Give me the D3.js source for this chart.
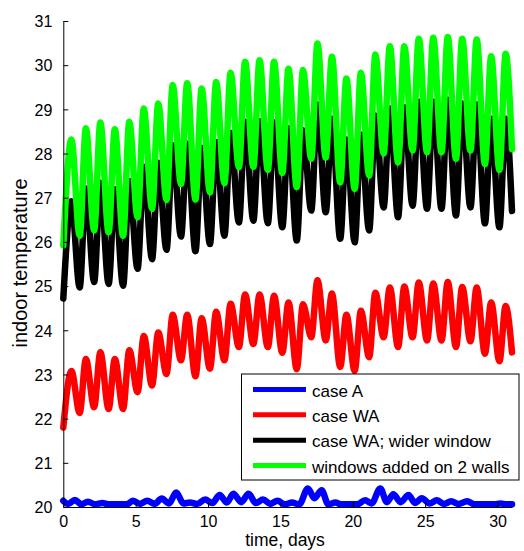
<!DOCTYPE html>
<html>
<head>
<meta charset="utf-8">
<script src="https://cdn.jsdelivr.net/npm/d3@7"></script>
<style>
  html, body { margin: 0; padding: 0; background: #fff; }
  svg { display: block; font-family: Arial, "Liberation Sans", Helvetica, sans-serif; }
</style>
</head>
<body>
<svg id="chart" width="524" height="551"></svg>
<script>
// Daily indoor temperature swings over one month, four building variants.
// Each periodic series is given by its daily low (early morning) and daily high (afternoon).
const days = d3.range(31);                 // day index 0..30
const troughOffset = 0.13;                 // time of daily minimum within a day
const peakOffset = 0.56;                   // time of daily maximum within a day

const greenTroughs = [25.92, 26.14, 26.26, 26.22, 26.14, 26.56, 26.75, 26.95, 27.31, 26.96, 27.12,
                      27.33, 27.69, 27.70, 27.63, 27.56, 27.24, 27.88, 27.91, 27.35, 27.20, 27.50,
                      28.00, 27.80, 28.07, 28.03, 28.03, 27.88, 28.07, 27.76, 27.63];
const greenPeaks   = [28.32, 28.57, 28.70, 28.55, 28.72, 29.02, 29.13, 29.55, 29.59, 29.47, 29.62,
                      29.83, 30.08, 30.11, 30.08, 29.92, 29.89, 30.49, 30.19, 29.70, 29.83, 30.24,
                      30.43, 30.43, 30.60, 30.62, 30.64, 30.60, 30.58, 30.20, 30.26];
const greenEnd = 28.1;

const blackTroughs = [24.72, 24.97, 25.09, 25.05, 25.01, 25.39, 25.61, 25.82, 26.12, 25.79, 25.95,
                      26.14, 26.44, 26.48, 26.42, 26.33, 26.03, 26.71, 26.67, 26.07, 25.99, 26.26,
                      26.78, 26.56, 26.82, 26.75, 26.75, 26.60, 26.78, 26.42, 26.33];
const blackPeaks   = [26.92, 27.21, 27.34, 27.19, 27.38, 27.70, 27.79, 28.19, 28.22, 28.13, 28.26,
                      28.47, 28.72, 28.73, 28.70, 28.57, 28.53, 29.11, 28.79, 28.32, 28.43, 28.86,
                      29.02, 29.05, 29.17, 29.17, 29.22, 29.13, 29.11, 28.79, 28.79];
const blackEnd = 26.7;

const redTroughs = [21.80, 22.13, 22.26, 22.22, 22.22, 22.60, 22.75, 23.01, 23.32, 22.96, 23.13,
                    23.32, 23.62, 23.69, 23.62, 23.49, 23.12, 23.84, 23.77, 23.17, 23.08, 23.39,
                    23.84, 23.62, 23.84, 23.77, 23.77, 23.62, 23.75, 23.47, 23.30];
const redPeaks   = [23.08, 23.35, 23.50, 23.35, 23.55, 23.87, 23.95, 24.35, 24.35, 24.27, 24.42,
                    24.60, 24.81, 24.81, 24.78, 24.63, 24.59, 25.13, 24.83, 24.35, 24.44, 24.85,
                    24.97, 24.99, 25.08, 25.06, 25.09, 24.98, 24.97, 24.63, 24.55];
const redEnd = 23.5;

// Case A stays near the 20 °C set point with small afternoon bumps.
const blueDays = [0, 0.35, 0.8, 1.25, 1.7, 2.2, 2.7, 3.1, 4.4, 4.8, 5.3, 5.8, 6.3, 6.8, 7.3, 7.8,
                  8.3, 8.75, 9.25, 9.8, 10.3, 10.8, 11.3, 11.75, 12.3, 12.8, 13.3, 13.8, 14.3, 14.8,
                  15.3, 15.8, 16.3, 16.9, 17.35, 17.85, 18.3, 18.8, 19.2, 20.3, 20.85, 21.3, 21.9,
                  22.35, 22.8, 23.3, 23.85, 24.3, 24.77, 25.3, 25.8, 26.3, 26.8, 27.3, 27.9, 28.4,
                  29.8, 30.2, 30.6, 31];
const blueTemps = [20.14, 20.07, 20.16, 20.06, 20.12, 20.06, 20.09, 20.06, 20.06, 20.14, 20.07,
                   20.14, 20.07, 20.19, 20.08, 20.33, 20.08, 20.10, 20.07, 20.17, 20.09, 20.27,
                   20.10, 20.30, 20.11, 20.30, 20.09, 20.17, 20.07, 20.14, 20.06, 20.10, 20.06,
                   20.42, 20.20, 20.38, 20.06, 20.10, 20.06, 20.06, 20.15, 20.08, 20.42, 20.11,
                   20.29, 20.11, 20.27, 20.09, 20.20, 20.08, 20.15, 20.07, 20.13, 20.07, 20.13,
                   20.06, 20.06, 20.08, 20.06, 20.06];

const xTicks = [0, 5, 10, 15, 20, 25, 30];
const yTicks = [20, 21, 22, 23, 24, 25, 26, 27, 28, 29, 30, 31];

const seriesNames = ["case A", "case WA", "case WA; wider window", "windows added on 2 walls"];
const seriesColors = ["#0000ff", "#ff0000", "#000000", "#00ff00"];

// Alternate daily lows and highs into one time series.
function dailyCycle(troughs, peaks, endValue) {
  const pts = [];
  days.forEach(n => {
    pts.push([n === 0 ? 0 : n + troughOffset, troughs[n]]);
    pts.push([n + peakOffset, peaks[n]]);
  });
  pts.push([31, endValue]);
  return pts;
}

const series = [
  blueDays.map((d, i) => [d, blueTemps[i]]),
  dailyCycle(redTroughs, redPeaks, redEnd),
  dailyCycle(blackTroughs, blackPeaks, blackEnd),
  dailyCycle(greenTroughs, greenPeaks, greenEnd)
];

const svg = d3.select("#chart");
const x = d3.scaleLinear().domain([0, 31]).range([63.3, 512]);
const y = d3.scaleLinear().domain([20, 31]).range([507, 21]);

const line = d3.line()
  .x(d => x(d[0]))
  .y(d => y(d[1]))
  .curve(d3.curveMonotoneX);

// Data lines
svg.append("g").selectAll("path")
  .data(series)
  .join("path")
  .attr("d", line)
  .attr("fill", "none")
  .attr("stroke", (d, i) => seriesColors[i])
  .attr("stroke-width", 6.5)
  .attr("stroke-linejoin", "round")
  .attr("stroke-linecap", "round");

// Axes drawn over the data: ticks point into the plot, no box.
const xAxis = svg.append("g").attr("transform", `translate(0,${y(20)})`)
  .call(d3.axisBottom(x).tickValues(xTicks).tickSize(-5).tickPadding(9).tickSizeOuter(0));
const yAxis = svg.append("g").attr("transform", `translate(${x(0)},0)`)
  .call(d3.axisLeft(y).tickValues(yTicks).tickSize(-5).tickPadding(11).tickSizeOuter(0));

[xAxis, yAxis].forEach(g => {
  g.select(".domain").attr("stroke", "#000").attr("stroke-width", 1);
  g.selectAll(".tick line").attr("stroke", "#000");
  g.selectAll(".tick text").attr("fill", "#000")
    .style("font-size", "16px").style("font-family", "Arial, 'Liberation Sans', sans-serif");
});
xAxis.selectAll(".tick text").attr("dy", "0.71em");
yAxis.selectAll(".tick text").attr("dy", "0.36em");

// Axis labels
svg.append("text")
  .attr("x", 285).attr("y", 546)
  .attr("text-anchor", "middle")
  .style("font-size", "17.5px")
  .text("time, days");

svg.append("text")
  .attr("transform", "translate(27,263) rotate(-90)")
  .attr("text-anchor", "middle")
  .style("font-size", "20px")
  .text("indoor temperature");

// Legend
const legend = svg.append("g");
legend.append("rect")
  .attr("x", 241.5).attr("y", 374).attr("width", 277.5).attr("height", 106)
  .attr("fill", "#fff").attr("stroke", "#000").attr("stroke-width", 1);

const rowY = d3.scaleLinear().domain([0, 3]).range([389.5, 465.5]);
const rows = legend.selectAll("g.row").data(seriesNames).join("g").attr("class", "row");
rows.append("line")
  .attr("x1", 253).attr("x2", 306)
  .attr("y1", (d, i) => rowY(i)).attr("y2", (d, i) => rowY(i))
  .attr("stroke", (d, i) => seriesColors[i])
  .attr("stroke-width", 5);
rows.append("text")
  .attr("x", 312).attr("y", (d, i) => rowY(i) + 7)
  .style("font-size", "17px")
  .text(d => d);
</script>
</body>
</html>
